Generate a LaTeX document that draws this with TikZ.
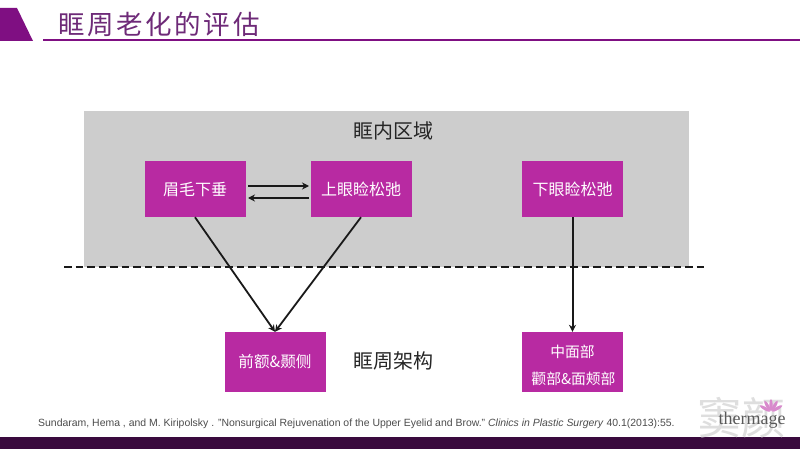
\documentclass[tikz,border=0pt]{standalone}
\usepackage{fontspec}
\setmainfont{Liberation Sans}
\newfontfamily\cjk{Noto Sans CJK SC}
\newfontfamily\cjktitle[LetterSpace=10]{Noto Sans CJK SC}
\usetikzlibrary{arrows.meta}
\definecolor{boxmag}{HTML}{B82AA2}
\definecolor{darkpurple}{HTML}{3A0A3E}
\definecolor{titlepurple}{HTML}{7F0F82}
\definecolor{zonegray}{HTML}{CDCDCD}
\definecolor{titletext}{HTML}{6E2A78}
\tikzset{
 x=1pt,y=-1pt,
 magbox/.style={fill=boxmag,draw=none,minimum width=101pt,minimum height=56pt,inner sep=0pt,text=white,font=\cjk\fontsize{16}{20}\selectfont,align=center},
 boxtext/.style={inner sep=0pt,text=white,font=\cjk\fontsize{14.8}{20}\selectfont},
 link/.style={draw=black!90,line width=1.8pt,-{Stealth[length=7pt,width=7pt]}},
 thinlink/.style={draw=black!90,line width=2pt,-{Stealth[length=7pt,width=7pt]}},
 lbl/.style={font=\cjk\fontsize{20}{22}\selectfont,text=black!85,inner sep=0pt},
}
\begin{document}
\begin{tikzpicture}
\useasboundingbox (0,0) rectangle (800,449);
\fill[white] (0,0) rectangle (800,449);
% header
\fill[titlepurple] (0,8) -- (17,8) -- (33,41) -- (0,41) -- cycle;
\coordinate (ruleL) at (43,40.5);
\coordinate (ruleR) at (800,40.5);
\draw[titlepurple,line width=2pt] (ruleL) -- (ruleR);
\node[anchor=west,inner sep=0pt,text=titletext,font=\cjktitle\fontsize{26.5}{28}\selectfont] (title) at (58,24.5) {眶周老化的评估};
% zone
\fill[zonegray] (84,111) rectangle (689,267);
\node[lbl] (inner) at (393,131) {眶内区域};
\node[lbl] (frame) at (393,361) {眶周架构};
% dashed
\coordinate (dashL) at (64,267);
\coordinate (dashR) at (704,267);
\draw[black!90,line width=2pt,dash pattern=on 7.5pt off 4pt] (dashL) -- (dashR);
% boxes
\node[magbox] (brow) at (195,189) {眉毛下垂};
\node[magbox] (upper) at (361,189) {上眼睑松弛};
\node[magbox] (lower) at (572.5,189) {下眼睑松弛};
\node[magbox,minimum height=60pt,font=\cjk\fontsize{15.6}{20}\selectfont] (fore) at (275,362) {前额\&颞侧};
\node[magbox,minimum height=60pt] (mid) at (572.5,362) {};
\node[boxtext] (midA) at (572.5,352) {中面部};
\node[boxtext] (midB) at (573.5,379) {颧部\&面颊部};
% connectors
\draw[thinlink] (248,186) -- (309,186);
\draw[thinlink] (309,198) -- (248,198);
\draw[link] (brow.south) -- (fore.north);
\draw[link] (upper.south) -- (fore.north);
\draw[thinlink] (lower.south) -- (mid.north);
% citation
\node[anchor=west,inner sep=0pt,text=black!70,font=\fontsize{10.45}{12}\selectfont] (cite) at (38,424) {Sundaram, Hema , and M. Kiripolsky . "Nonsurgical Rejuvenation of the Upper Eyelid and Brow." \textit{Clinics in Plastic Surgery} 40.1(2013):55.};
% footer
\fill[darkpurple] (0,437) rectangle (800,449);
% watermark
\node[inner sep=0pt,text=black!13,font=\cjk\fontsize{44}{46}\selectfont] (wm) at (741,418) {窦颜};
\foreach \a in {-60,-30,0,30,60}
  \fill[boxmag!55,rotate around={\a:(771,412)}] (771,405) ellipse (1.6 and 6);
\node[inner sep=0pt,text=black!65,font=\fontsize{18}{20}\selectfont] (brand) at (752,420) {\fontspec{Liberation Serif}thermage};
\end{tikzpicture}
\end{document}
